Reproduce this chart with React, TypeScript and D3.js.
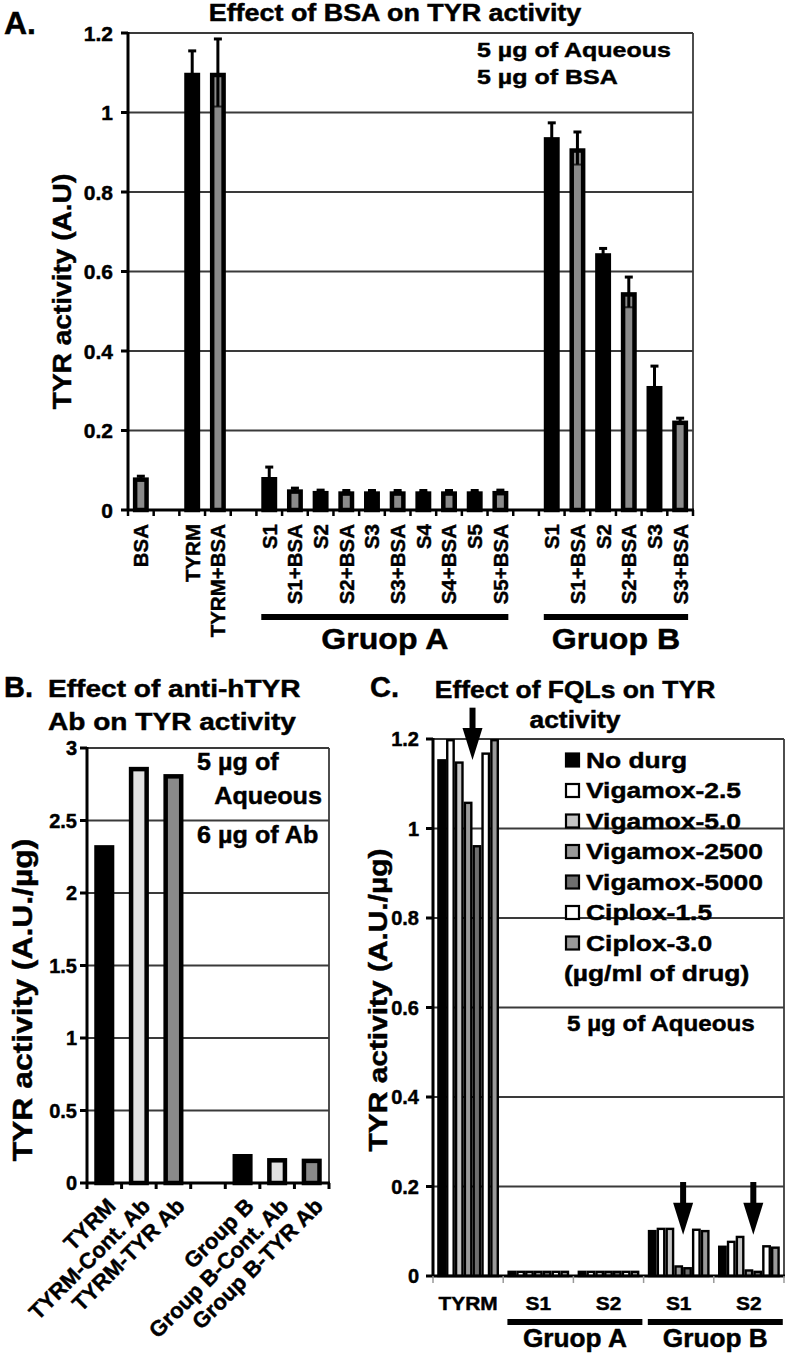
import React from "react";
import * as d3 from "d3";

const FONT = "'Liberation Sans', Arial, Helvetica, sans-serif";

// ---------- Panel A data ----------
const aLabels = ["BSA", "", "TYRM", "TYRM+BSA", "", "S1", "S1+BSA", "S2", "S2+BSA", "S3", "S3+BSA", "S4", "S4+BSA", "S5", "S5+BSA", "", "S1", "S1+BSA", "S2", "S2+BSA", "S3", "S3+BSA"];
const aValues = [0.082, null, 1.1, 1.1, null, 0.083, 0.052, 0.048, 0.047, 0.047, 0.047, 0.047, 0.047, 0.047, 0.048, null, 0.938, 0.91, 0.646, 0.548, 0.312, 0.225];
const aErrors = [0.003, null, 0.055, 0.085, null, 0.025, 0.003, 0.002, 0.002, 0.002, 0.002, 0.002, 0.002, 0.002, 0.002, null, 0.036, 0.041, 0.012, 0.038, 0.05, 0.006];
const aKinds = ["bsa", null, "plain", "bsa", null, "plain", "bsa", "plain", "bsa", "plain", "bsa", "plain", "bsa", "plain", "bsa", null, "plain", "bsa", "plain", "bsa", "plain", "bsa"];
const aGroups = [{ name: "Gruop A", from: 5, to: 14 }, { name: "Gruop B", from: 16, to: 21 }];
const aTicks = [0, 0.2, 0.4, 0.6, 0.8, 1, 1.2];

// ---------- Panel B data ----------
const bLabels = ["TYRM", "TYRM-Cont. Ab", "TYRM-TYR Ab", "", "Group B", "Group B-Cont. Ab", "Group B-TYR Ab"];
const bValues = [2.33, 2.87, 2.82, null, 0.2, 0.172, 0.168];
const bKinds = ["none", "cont", "tyr", null, "none", "cont", "tyr"];
const bTicks = [0, 0.5, 1, 1.5, 2, 2.5, 3];

// ---------- Panel C data ----------
const cCategories = ["TYRM", "S1", "S2", "S1", "S2"];
const cSeries = ["No durg", "Vigamox-2.5", "Vigamox-5.0", "Vigamox-2500", "Vigamox-5000", "Ciplox-1.5", "Ciplox-3.0"];
const cNoDrug = [1.155, 0.012, 0.012, 0.103, 0.068];
const cVig25 = [1.2, 0.012, 0.012, 0.108, 0.079];
const cVig50 = [1.15, 0.012, 0.012, 0.108, 0.09];
const cVig2500 = [1.06, 0.012, 0.012, 0.024, 0.015];
const cVig5000 = [0.963, 0.012, 0.012, 0.02, 0.012];
const cCip15 = [1.17, 0.012, 0.012, 0.106, 0.069];
const cCip30 = [1.2, 0.012, 0.012, 0.103, 0.066];
const cValues = [cNoDrug, cVig25, cVig50, cVig2500, cVig5000, cCip15, cCip30];
const cGroups = [{ name: "Gruop A", from: 1, to: 2 }, { name: "Gruop B", from: 3, to: 4 }];
const cArrows = [{ cat: 0, tip: 1.153, top: 1.27 }, { cat: 3, tip: 0.092, top: 0.21 }, { cat: 4, tip: 0.092, top: 0.21 }];
const cTicks = [0, 0.2, 0.4, 0.6, 0.8, 1, 1.2];

const fmt = (v: number) => String(+v.toFixed(2));

function T(props: any) {
  const { x, y, size, sx = 1, rot = 0, anchor = "start", dy = "0", children } = props;
  return (
    <text
      transform={`translate(${x},${y}) rotate(${rot}) scale(${sx},1)`}
      fontSize={size}
      textAnchor={anchor}
      dy={dy}
      fontFamily={FONT}
      fontWeight="bold"
      fill="#000"
      stroke="#000"
      strokeWidth={0.45}
    >
      {children}
    </text>
  );
}

const GRID = "#3a3a3a";

function PanelA() {
  const L = 128, R = 693, TOP = 33, BOT = 510;
  const y = d3.scaleLinear().domain([0, 1.2]).range([BOT, TOP]);
  const x = d3.scaleBand<number>().domain(d3.range(aLabels.length)).range([L, R]).paddingInner(0.38).paddingOuter(0.19);
  const bw = x.bandwidth();
  const step = x.step();
  const sw = 4.5;
  return (
    <g>
      {aTicks.filter((t) => t > 0).map((t) => (
        <line key={t} x1={L} x2={R} y1={y(t)} y2={y(t)} stroke={GRID} strokeWidth={1.8} />
      ))}
      <line x1={R} x2={R} y1={TOP} y2={BOT} stroke={GRID} strokeWidth={1.8} />
      {aValues.map((v, i) =>
        v == null ? null : (
          <rect
            key={i}
            x={(x(i) as number) + sw / 2}
            y={y(v) + sw / 2}
            width={bw - sw}
            height={BOT - y(v) - sw / 2}
            fill={aKinds[i] === "bsa" ? "#8a8a8a" : "#000"}
            stroke="#000"
            strokeWidth={sw}
          />
        )
      )}
      {aValues.map((v, i) => {
        const e = aErrors[i];
        if (v == null || e == null) return null;
        const cx = (x(i) as number) + bw / 2;
        return (
          <g key={"e" + i}>
            <line x1={cx} x2={cx} y1={y(v - e)} y2={y(v + e)} stroke="#000" strokeWidth={3} />
            <line x1={cx - 4} x2={cx + 4} y1={y(v + e)} y2={y(v + e)} stroke="#000" strokeWidth={3} />
            <line x1={cx - 4} x2={cx + 4} y1={y(v - e)} y2={y(v - e)} stroke="#000" strokeWidth={2} opacity={0.7} />
          </g>
        );
      })}
      <line x1={L} x2={L} y1={TOP - 1} y2={BOT + 1} stroke="#000" strokeWidth={3} />
      <line x1={L - 1} x2={R + 1} y1={BOT} y2={BOT} stroke="#000" strokeWidth={3} />
      {aTicks.map((t) => (
        <g key={t}>
          <line x1={L - 7} x2={L} y1={y(t)} y2={y(t)} stroke="#000" strokeWidth={3} />
          <T x={L - 15} y={y(t)} size={21} anchor="end" dy="0.36em">{fmt(t)}</T>
        </g>
      ))}
      {d3.range(aLabels.length + 1).map((k) => (
        <line key={k} x1={L + k * step} x2={L + k * step} y1={BOT} y2={BOT + 6} stroke="#000" strokeWidth={2.5} />
      ))}
      {aLabels.map((lab, i) =>
        lab ? (
          <T key={i} x={(x(i) as number) + bw / 2} y={BOT + 14} size={20.5} rot={-90} anchor="end" dy="0.36em">{lab}</T>
        ) : null
      )}
      {aGroups.map((g) => {
        const x0 = x(g.from) as number;
        const x1 = (x(g.to) as number) + bw;
        return (
          <g key={g.name}>
            <rect x={x0} y={614} width={x1 - x0} height={6} fill="#000" />
            <T x={(x0 + x1) / 2} y={649} size={30} sx={1.07} anchor="middle">{g.name}</T>
          </g>
        );
      })}
      <T x={4} y={34} size={32}>A.</T>
      <T x={395} y={21} size={23} sx={1.17} anchor="middle">Effect of BSA on TYR activity</T>
      <T x={477} y={57} size={21} sx={1.19}>5 µg of Aqueous</T>
      <T x={477} y={84} size={21} sx={1.19}>5 µg of BSA</T>
      <T x={62} y={(TOP + BOT) / 2 + 20} size={26} sx={1.08} rot={-90} anchor="middle" dy="0.36em">TYR activity (A.U)</T>
    </g>
  );
}

function PanelB() {
  const L = 87, R = 329, TOP = 748, BOT = 1183;
  const y = d3.scaleLinear().domain([0, 3]).range([BOT, TOP]);
  const x = d3.scaleBand<number>().domain(d3.range(bLabels.length)).range([L, R]).paddingInner(0.42).paddingOuter(0.21);
  const bw = x.bandwidth();
  const step = x.step();
  const sw = 4.5;
  const fillOf: any = { none: "#000", cont: "#e2e2e2", tyr: "#8a8a8a" };
  return (
    <g>
      {bTicks.filter((t) => t > 0).map((t) => (
        <line key={t} x1={L} x2={R} y1={y(t)} y2={y(t)} stroke={GRID} strokeWidth={1.8} />
      ))}
      <line x1={R} x2={R} y1={TOP} y2={BOT} stroke={GRID} strokeWidth={1.8} />
      {bValues.map((v, i) =>
        v == null ? null : (
          <rect
            key={i}
            x={(x(i) as number) + sw / 2}
            y={y(v) + sw / 2}
            width={bw - sw}
            height={BOT - y(v) - sw / 2}
            fill={fillOf[bKinds[i] as string]}
            stroke="#000"
            strokeWidth={sw}
          />
        )
      )}
      <line x1={L} x2={L} y1={TOP - 1} y2={BOT + 1} stroke="#000" strokeWidth={3} />
      <line x1={L - 1} x2={R + 1} y1={BOT} y2={BOT} stroke="#000" strokeWidth={3} />
      {bTicks.map((t) => (
        <g key={t}>
          <line x1={L - 7} x2={L} y1={y(t)} y2={y(t)} stroke="#000" strokeWidth={3} />
          <T x={L - 10} y={y(t)} size={20} anchor="end" dy="0.36em">{fmt(t)}</T>
        </g>
      ))}
      {d3.range(bLabels.length + 1).map((k) => (
        <line key={k} x1={L + k * step} x2={L + k * step} y1={BOT} y2={BOT + 6} stroke="#000" strokeWidth={3} />
      ))}
      {bLabels.map((lab, i) =>
        lab ? (
          <T key={i} x={(x(i) as number) + bw / 2 + 7} y={BOT + 19} size={22} rot={-45} anchor="end" dy="0.36em">{lab}</T>
        ) : null
      )}
      <T x={4} y={697} size={29}>B.</T>
      <T x={48} y={697} size={24} sx={1.17}>Effect of anti-hTYR</T>
      <T x={48} y={730} size={24} sx={1.17}>Ab on TYR activity</T>
      <T x={197} y={770} size={24} sx={1.05}>5 µg of</T>
      <T x={322} y={804} size={24} sx={1.05} anchor="end">Aqueous</T>
      <T x={197} y={843} size={24} sx={1.05}>6 µg of Ab</T>
      <T x={22} y={1000} size={27} sx={1.18} rot={-90} anchor="middle" dy="0.36em">TYR activity (A.U./µg)</T>
    </g>
  );
}

function PanelC() {
  const L = 433, R = 784, TOP = 739, BOT = 1276;
  const y = d3.scaleLinear().domain([0, 1.2]).range([BOT, TOP]);
  const x = d3.scaleBand<number>().domain(d3.range(cCategories.length)).range([L, R]).paddingInner(0.12).paddingOuter(0.06);
  const xi = d3.scaleBand<string>().domain(cSeries).range([0, x.bandwidth()]).padding(0);
  const bw = xi.bandwidth();
  const step = x.step();
  const sw = 2.4;
  const fills = ["#000", "#fff", "#c4c4c4", "#9a9a9a", "#6e6e6e", "#fff", "#9a9a9a"];
  return (
    <g>
      {cTicks.filter((t) => t > 0).map((t) => (
        <line key={t} x1={L} x2={R} y1={y(t)} y2={y(t)} stroke={GRID} strokeWidth={1.8} />
      ))}
      <line x1={R} x2={R} y1={TOP} y2={BOT} stroke={GRID} strokeWidth={1.8} />
      {cSeries.map((s, si) =>
        cValues[si].map((v, ci) => (
          <rect
            key={s + ci}
            x={(x(ci) as number) + (xi(s) as number) + sw / 2}
            y={y(v) + sw / 2}
            width={bw - sw}
            height={Math.max(0, BOT - y(v) - sw / 2)}
            fill={fills[si]}
            stroke="#000"
            strokeWidth={sw}
          />
        ))
      )}
      <line x1={L} x2={L} y1={TOP - 1} y2={BOT + 1} stroke="#000" strokeWidth={3} />
      <line x1={L - 1} x2={R + 1} y1={BOT} y2={BOT} stroke="#000" strokeWidth={3} />
      {cTicks.map((t) => (
        <g key={t}>
          <line x1={L - 7} x2={L} y1={y(t)} y2={y(t)} stroke="#000" strokeWidth={3} />
          <T x={L - 14} y={y(t)} size={20} anchor="end" dy="0.36em">{fmt(t)}</T>
        </g>
      ))}
      {d3.range(cCategories.length + 1).map((k) => (
        <line key={k} x1={L + k * step} x2={L + k * step} y1={BOT} y2={BOT + 7} stroke="#999" strokeWidth={1.5} />
      ))}
      {cCategories.map((c, i) => (
        <T key={i} x={(x(i) as number) + x.bandwidth() / 2} y={1310} size={19} sx={1.1} anchor="middle">{c}</T>
      ))}
      {cGroups.map((g) => {
        const x0 = x(g.from) as number;
        const x1 = (x(g.to) as number) + x.bandwidth() + 3;
        return (
          <g key={g.name}>
            <rect x={x0} y={1319} width={x1 - x0} height={6} fill="#000" />
            <T x={(x0 + x1) / 2} y={1347} size={25} sx={1.05} anchor="middle">{g.name}</T>
          </g>
        );
      })}
      {cArrows.map((a, i) => {
        const ax = (x(a.cat) as number) + (xi("Vigamox-5000") as number);
        const yt = y(a.tip), y0 = y(a.top);
        const hl = 32, hw = 10;
        return (
          <g key={i}>
            <rect x={ax - 3} y={y0} width={6} height={yt - hl - y0 + 1} fill="#000" />
            <path d={`M${ax - hw},${yt - hl} L${ax + hw},${yt - hl} L${ax},${yt} Z`} fill="#000" />
          </g>
        );
      })}
      {cSeries.map((s, si) => (
        <g key={s}>
          <rect x={566} y={760 + si * 30.5 - 6.5} width={13} height={13} fill={fills[si]} stroke="#000" strokeWidth={2.2} />
          <T x={586} y={760 + si * 30.5} size={22} sx={1.2} dy="0.36em">{s}</T>
        </g>
      ))}
      <T x={564} y={760 + 7 * 30.5} size={22} sx={1.2} dy="0.36em">(µg/ml of drug)</T>
      <T x={567} y={1023} size={22} sx={1.1} dy="0.36em">5 µg of Aqueous</T>
      <T x={370} y={697} size={29}>C.</T>
      <T x={575} y={698} size={23} sx={1.15} anchor="middle">Effect of FQLs on TYR</T>
      <T x={575} y={728} size={23} sx={1.15} anchor="middle">activity</T>
      <T x={378} y={1000} size={26} sx={1.15} rot={-90} anchor="middle" dy="0.36em">TYR activity (A.U./µg)</T>
    </g>
  );
}

export default function App() {
  return (
    <svg
      width={787}
      height={1356}
      viewBox="0 0 787 1356"
      style={{ position: "absolute", left: 0, top: 0, display: "block", background: "#fff" }}
    >
      <rect x={0} y={0} width={787} height={1356} fill="#fff" />
      <PanelA />
      <PanelB />
      <PanelC />
    </svg>
  );
}
